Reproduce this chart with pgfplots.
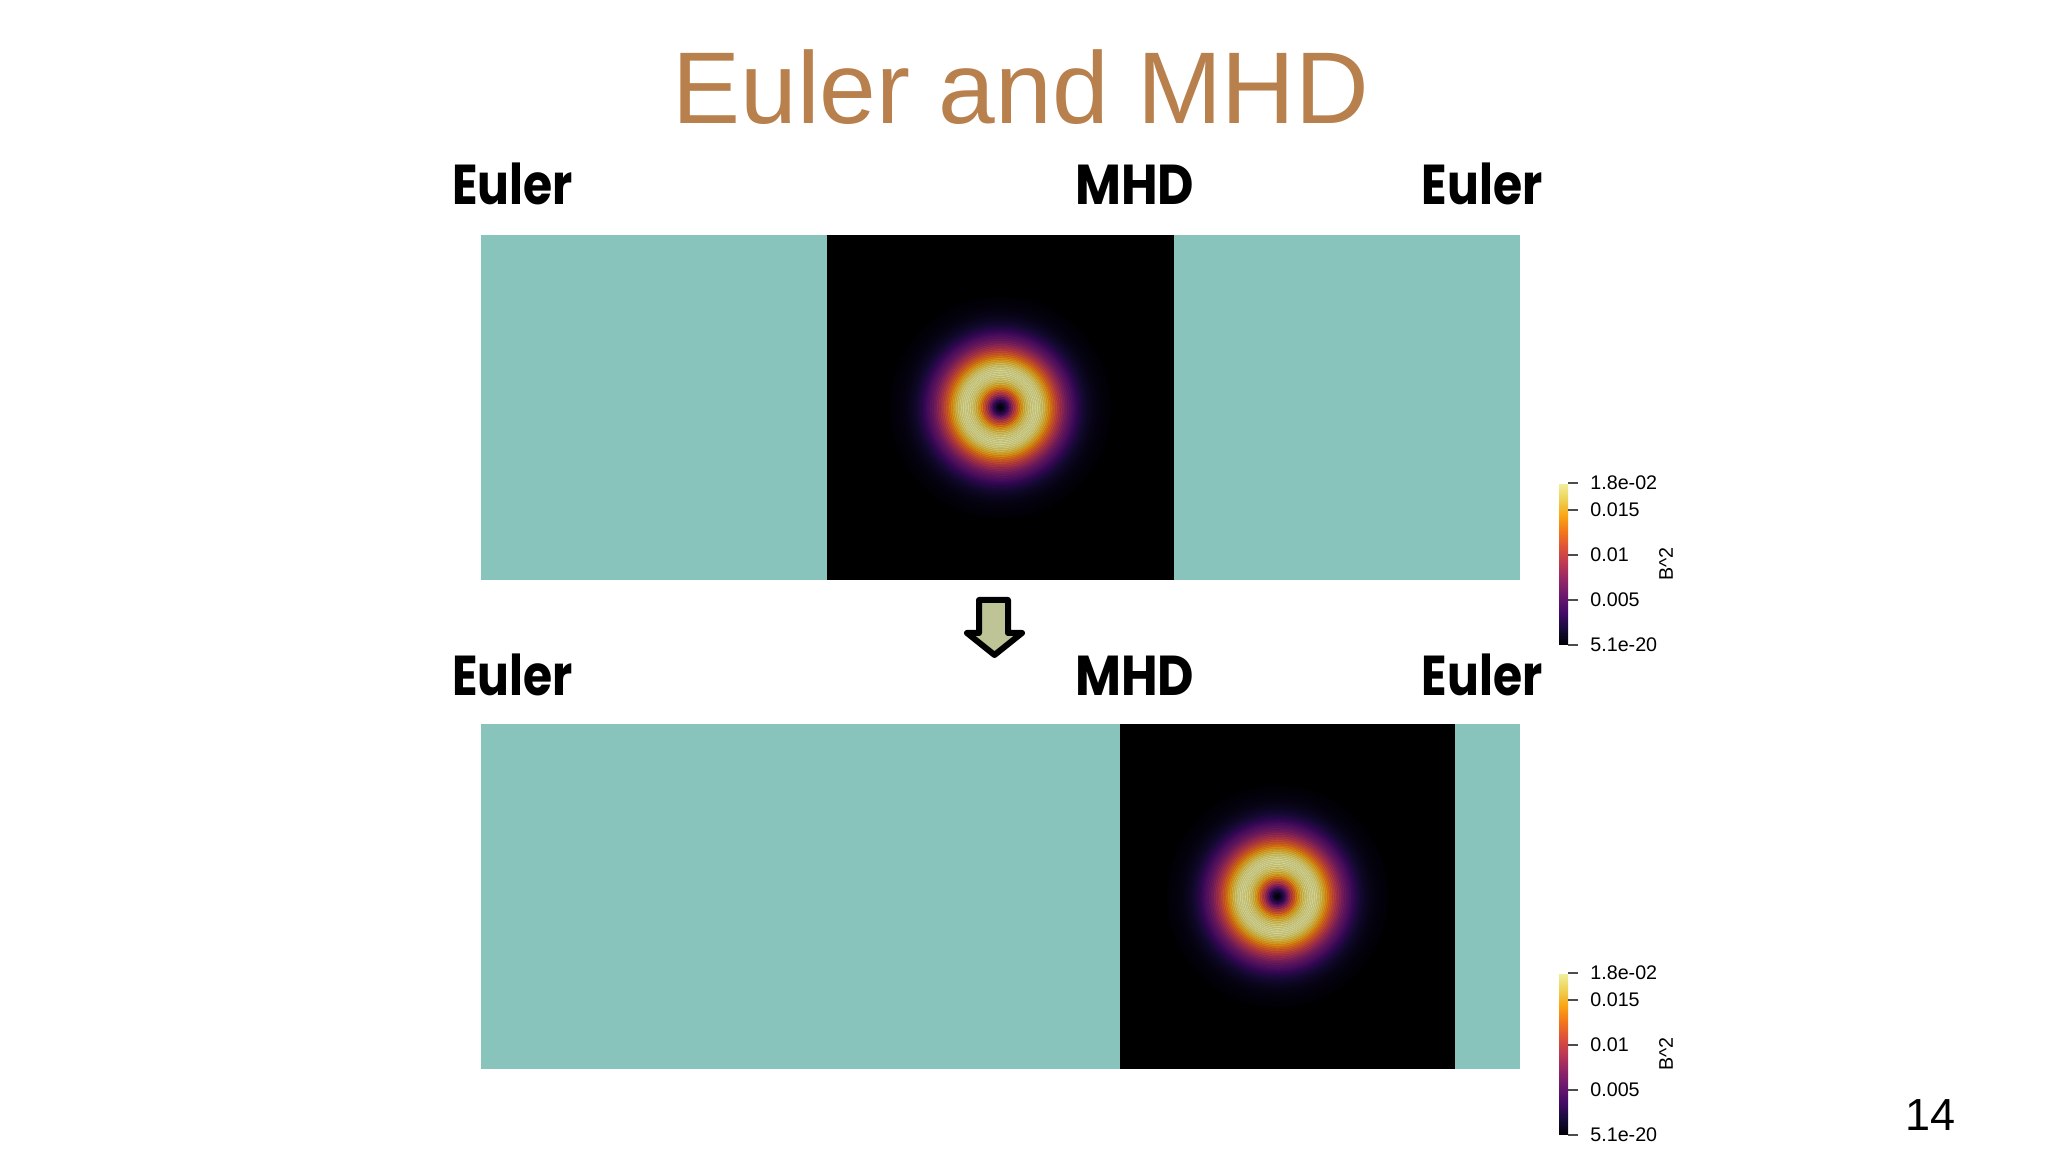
\documentclass[border=0pt]{standalone}
\usepackage{fontspec}
\setmainfont{Liberation Sans}
\newfontfamily\labelfont{Poppins}
\usepackage{pgfplots}
\pgfplotsset{compat=1.18}
\usepackage{pgfplotstable}

\definecolor{eulerteal}{RGB}{137,196,188}
\definecolor{titlebrown}{RGB}{184,128,76}
\definecolor{arrowfill}{RGB}{190,196,150}

% radial profile of B^2 across the current loop (r in domain units)
\pgfplotstableread{
r      v
0.320  0.00009
0.315  0.000144
0.310  0.00018
0.305  0.000234
0.300  0.00027
0.295  0.000324
0.290  0.00036
0.285  0.00045
0.280  0.00054
0.275  0.000666
0.270  0.00081
0.265  0.000936
0.260  0.00108
0.255  0.00126
0.250  0.00144
0.245  0.00171
0.240  0.00198
0.235  0.00234
0.230  0.0027
0.225  0.00306
0.220  0.00342
0.215  0.00396
0.210  0.0045
0.205  0.00495
0.200  0.0054
0.195  0.00594
0.190  0.00648
0.185  0.0072
0.180  0.00792
0.175  0.00864
0.170  0.00936
0.165  0.01017
0.160  0.01098
0.155  0.01179
0.150  0.0126
0.145  0.0135
0.140  0.0144
0.135  0.01512
0.130  0.01584
0.125  0.01647
0.120  0.0171
0.115  0.01755
0.110  0.01782
0.105  0.017964
0.100  0.018
0.095  0.01791
0.090  0.01764
0.085  0.017424
0.080  0.0171
0.075  0.016524
0.070  0.01584
0.065  0.01521
0.060  0.0144
0.055  0.01323
0.050  0.01188
0.045  0.0108
0.040  0.00954
0.035  0.00801
0.030  0.00648
0.025  0.00486
0.020  0.00324
0.015  0.00207
0.010  0.00108
0.005  0.00036
}\ringprofile

\pgfplotsset{
  colormap={inferno}{rgb255=(0,0,4) rgb255=(22,11,57) rgb255=(66,10,104)
    rgb255=(106,23,110) rgb255=(147,38,103) rgb255=(188,55,84) rgb255=(221,81,58)
    rgb255=(243,118,27) rgb255=(250,165,20) rgb255=(238,210,85) rgb255=(240,240,160)},
  panel/.style={
    hide axis, scale only axis, width=10.39cm, height=3.45cm,
    xmin=0, xmax=3, ymin=0, ymax=1,
    colormap name=inferno, point meta min=0, point meta max=0.018,
    colorbar,
    colorbar style={
      width=0.09cm, height=1.62cm,
      axis line style={draw=none},
      scaled y ticks=false,
      ytick={0,0.005,0.01,0.015,0.018},
      yticklabels={5.1e-20,0.005,0.01,0.015,1.8e-02},
      ytick pos=right, yticklabel pos=right,
      tick align=outside, major tick length=0.1cm,
      tick style={black!70, line width=0.3pt},
      yticklabel style={font=\fontsize{5.6pt}{6pt}\selectfont},
      ylabel={B\textasciicircum 2},
      ylabel style={at={(axis description cs:11.9,0.5)}, anchor=center,
        font=\fontsize{5.6pt}{6pt}\selectfont},
    },
  },
  ring/.style={scatter, only marks, mark=*, point meta=explicit,
    visualization depends on={\thisrow{r} \as \rr},
    scatter/@pre marker code/.append style={/tikz/mark size=\rr*98.3}},
}

\begin{document}
\begin{tikzpicture}
\fill[white] (0,0) rectangle (20.48,11.52);
\useasboundingbox (0,0) rectangle (20.48,11.52);

\node[anchor=base, font=\fontsize{29pt}{34pt}\selectfont, text=titlebrown]
  at (10.21,10.28) {Euler and MHD};

% region labels
\begin{scope}[every node/.style={font=\labelfont\bfseries\fontsize{16pt}{19pt}\selectfont}]
\node[anchor=base west] at (4.40,9.47) {\scalebox{0.84}[1]{Euler}};
\node[anchor=base west] at (10.63,9.47) {\scalebox{0.89}[1]{MHD}};
\node[anchor=base east] at (15.55,9.47) {\scalebox{0.84}[1]{Euler}};
\node[anchor=base west] at (4.40,4.56) {\scalebox{0.84}[1]{Euler}};
\node[anchor=base west] at (10.63,4.56) {\scalebox{0.89}[1]{MHD}};
\node[anchor=base east] at (15.55,4.56) {\scalebox{0.84}[1]{Euler}};
\end{scope}

% before
\begin{axis}[panel, at={(4.81cm,5.72cm)}, anchor=south west,
  colorbar style={at={(15.29cm,5.07cm)}, anchor=south west}]
\addplot[fill=eulerteal, draw=none] coordinates {(0,0) (3,0) (3,1) (0,1)} -- cycle;
\addplot[fill=black, draw=none] coordinates {(1,0) (2,0) (2,1) (1,1)} -- cycle;
\addplot[ring] table[x expr=1.5, y expr=0.5, meta=v] {\ringprofile};
\end{axis}

% after
\begin{axis}[panel, at={(4.81cm,0.83cm)}, anchor=south west,
  colorbar style={at={(15.29cm,0.17cm)}, anchor=south west}]
\addplot[fill=eulerteal, draw=none] coordinates {(0,0) (3,0) (3,1) (0,1)} -- cycle;
\addplot[fill=black, draw=none] coordinates {(1.845,0) (2.813,0) (2.813,1) (1.845,1)} -- cycle;
\addplot[ring] table[x expr=2.3, y expr=0.5, meta=v] {\ringprofile};
\end{axis}

% arrow between the two states
\draw[line width=0.06cm, fill=arrowfill, line join=round]
  (9.79,5.52) -- (10.08,5.52) -- (10.08,5.19) -- (10.22,5.19) -- (9.945,4.97)
  -- (9.67,5.19) -- (9.79,5.19) -- cycle;

\node[anchor=base west, font=\fontsize{12.8pt}{15pt}\selectfont] at (18.93,0.21) {14};
\end{tikzpicture}
\end{document}
